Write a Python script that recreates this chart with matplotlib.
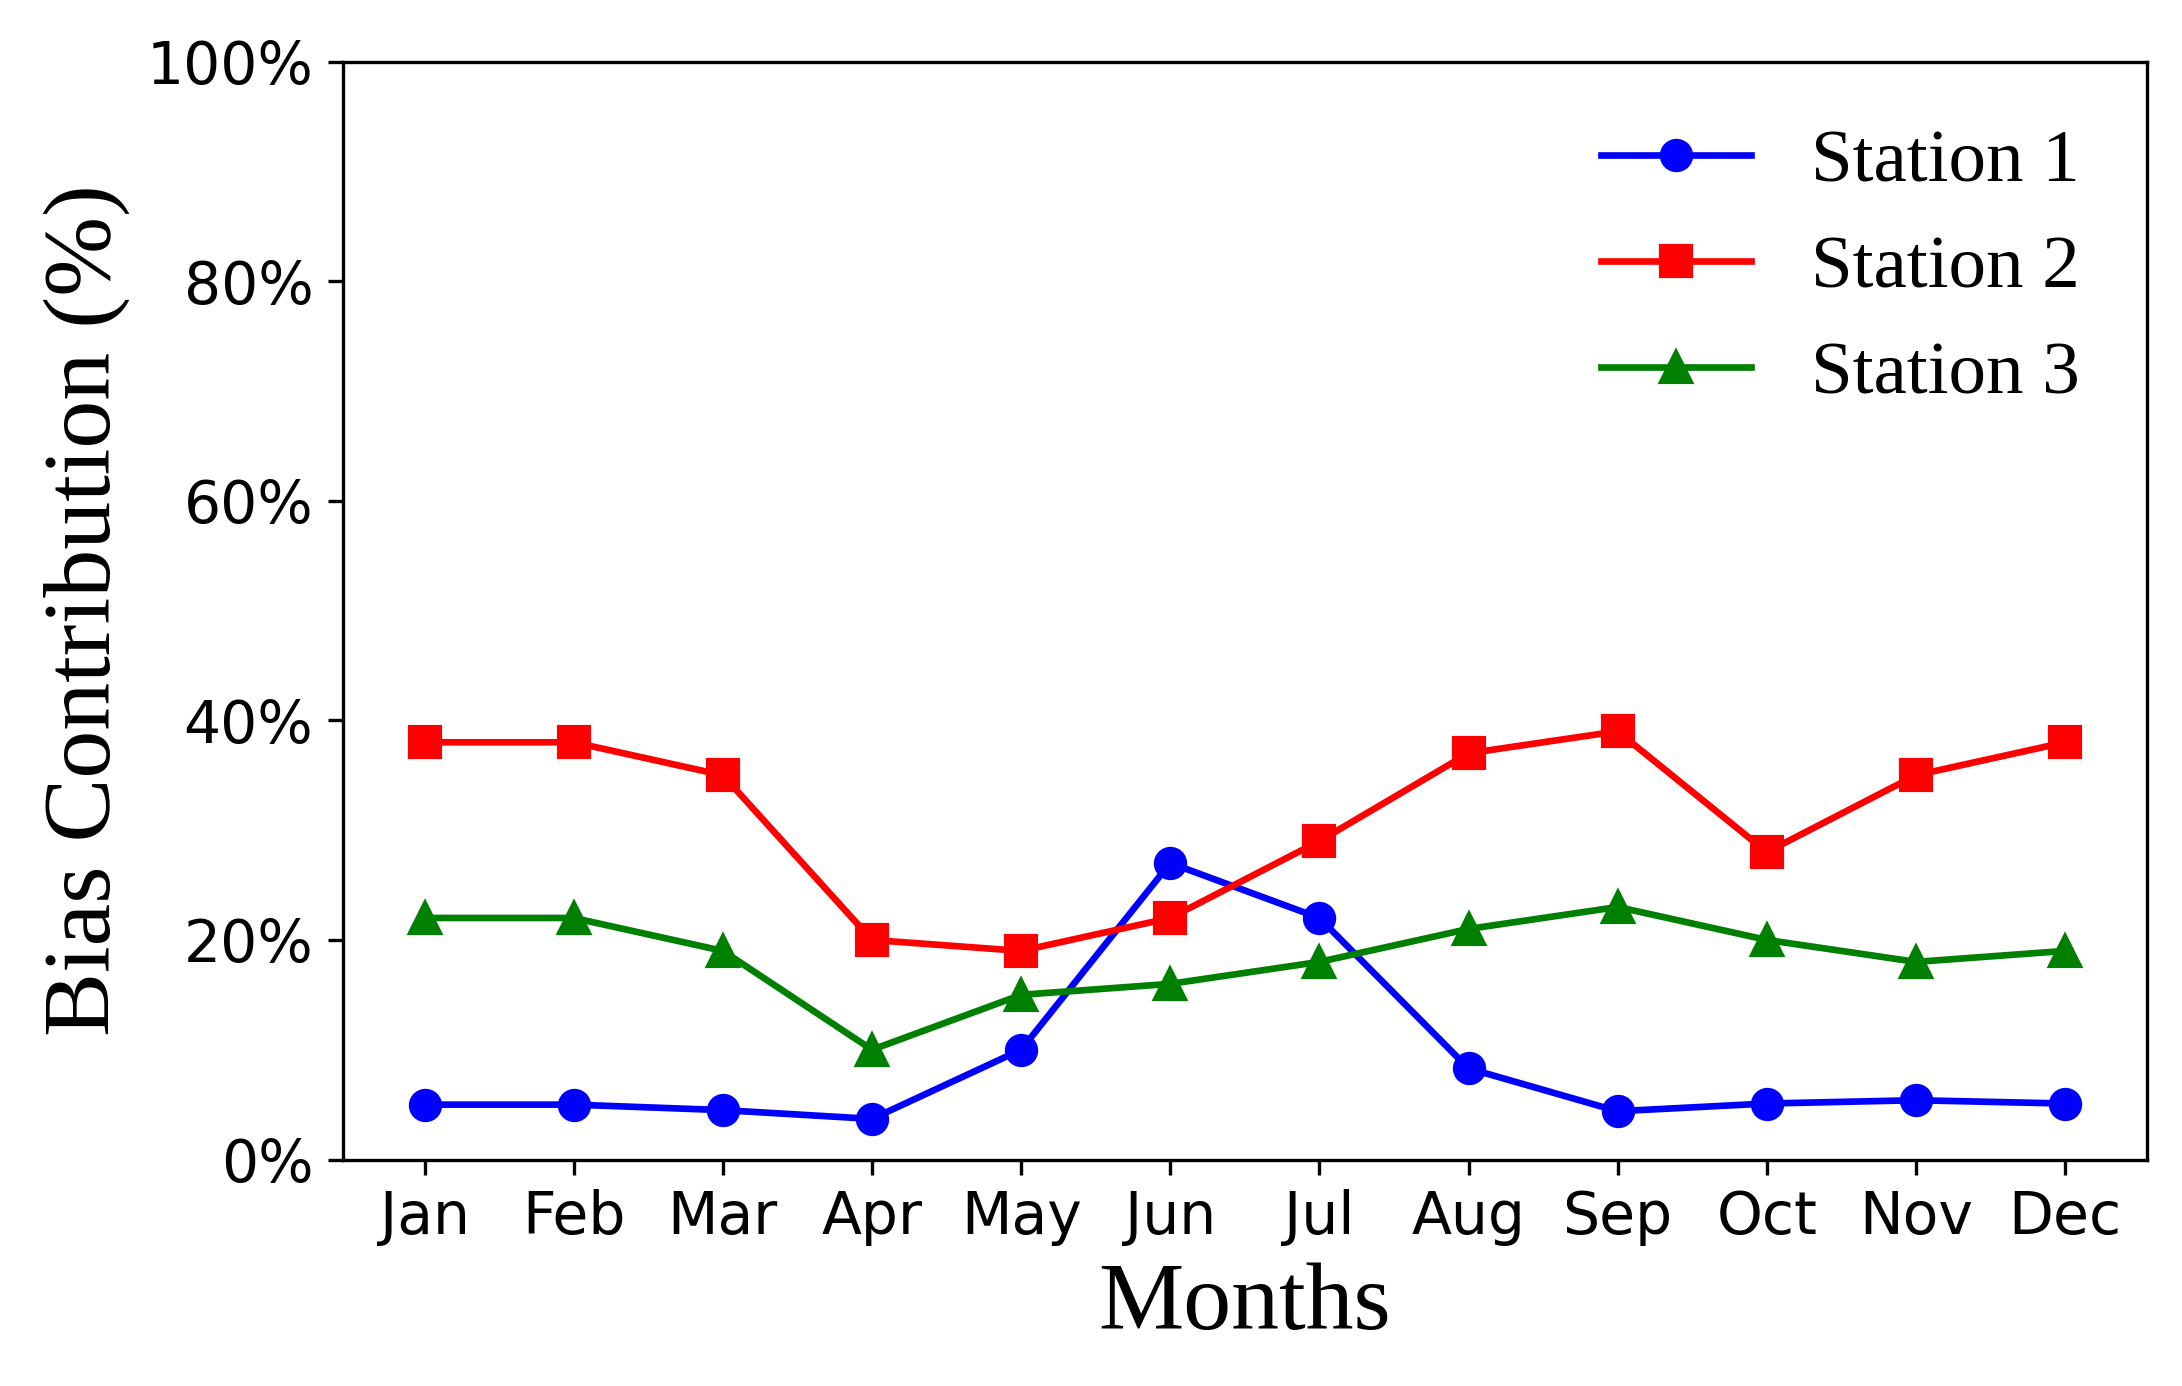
import matplotlib
matplotlib.use("Agg")
import matplotlib.pyplot as plt
from matplotlib.ticker import FuncFormatter

months = ["Jan", "Feb", "Mar", "Apr", "May", "Jun", "Jul", "Aug", "Sep", "Oct", "Nov", "Dec"]
station1 = [5.0, 5.0, 4.5, 3.7, 10.0, 27.0, 22.0, 8.3, 4.4, 5.1, 5.4, 5.1]
station2 = [38, 38, 35, 20, 19, 22, 29, 37, 39, 28, 35, 38]
station3 = [22, 22, 19, 10, 15, 16, 18, 21, 23, 20, 18, 19]
yticks = [0, 20, 40, 60, 80, 100]

fig = plt.figure(figsize=(2182/300, 1386/300), dpi=300)
ax = fig.add_axes([0.157, 0.1634, 0.827, 0.7922])

x = list(range(len(months)))
ax.plot(x, station1, color="blue", marker="o", lw=1.6, ms=7, label="Station 1")
ax.plot(x, station2, color="red", marker="s", lw=1.6, ms=7, label="Station 2")
ax.plot(x, station3, color="green", marker="^", lw=1.6, ms=7, label="Station 3")

ax.set_ylim(0, 100)
ax.set_yticks(yticks)
ax.yaxis.set_major_formatter(FuncFormatter(lambda v, p: f"{v:.0f}%"))
ax.set_xticks(x)
ax.set_xticklabels(months)
ax.tick_params(labelsize=14)

serif = ["Liberation Serif", "DejaVu Serif"]
ax.set_xlabel("Months", fontsize=23, family=serif)
ax.set_ylabel("Bias Contribution (%)", fontsize=23, family=serif)

ax.legend(loc="upper right", frameon=False, prop={"family": serif, "size": 18})

fig.savefig("out.png", dpi=300)
